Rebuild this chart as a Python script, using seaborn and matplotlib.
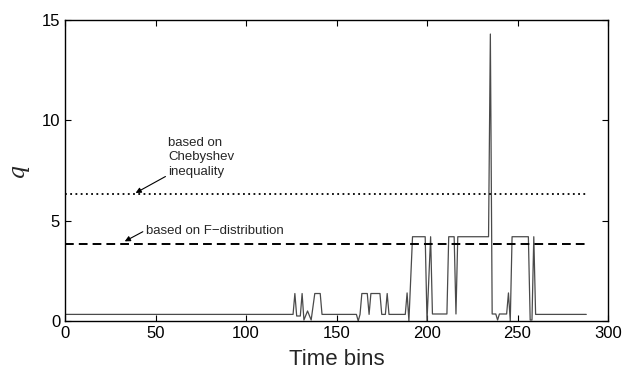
import matplotlib
matplotlib.use("Agg")
import matplotlib.pyplot as plt
import seaborn as sns
import pandas as pd

# Statistic q per time bin (vertices of the trace)
time_bins = [0, 126, 127, 128, 130, 131, 132, 134, 136, 138, 141, 142,
             161, 162, 163, 164, 167, 168, 169, 174, 175, 177, 178, 179,
             188, 189, 190, 192, 199, 200, 202, 203, 211, 212, 215, 216,
             217, 234, 235, 236, 238, 239, 240, 244, 245, 246, 247, 256,
             257, 258, 259, 260, 288]
q_values = [0.33, 0.33, 1.37, 0.25, 0.25, 1.37, 0.05, 0.5, 0.05, 1.37, 1.37, 0.33,
            0.33, 0.0, 0.33, 1.37, 1.37, 0.33, 1.37, 1.37, 0.33, 0.33, 1.37, 0.33,
            0.33, 1.4, 0.0, 4.2, 4.2, 0.0, 4.2, 0.35, 0.35, 4.2, 4.2, 0.35,
            4.2, 4.2, 14.3, 0.35, 0.35, 0.05, 0.35, 0.35, 1.4, 0.0, 4.2, 4.2,
            0.05, 0.05, 4.2, 0.33, 0.33]

# Detection thresholds
threshold_span = [0, 288]
chebyshev_q = 6.35
f_dist_q = 3.85

x_ticks = [0, 50, 100, 150, 200, 250, 300]
y_ticks = [0, 5, 10, 15]

sns.set_style("ticks")
plt.rcParams["font.family"] = ["Liberation Sans", "DejaVu Sans"]

fig = plt.figure(figsize=(6.22, 3.77), dpi=100)
ax = fig.add_axes([0.1045, 0.1485, 0.873, 0.7985])

df = pd.DataFrame({"Time bins": time_bins, "q": q_values})
sns.lineplot(data=df, x="Time bins", y="q", ax=ax, color="#4a4a4a",
             linewidth=0.9, estimator=None, sort=False)

ax.plot(threshold_span, [chebyshev_q, chebyshev_q], color="black",
        linewidth=1.3, linestyle=(0, (1, 1.9)))
ax.plot(threshold_span, [f_dist_q, f_dist_q], color="black",
        linewidth=1.4, linestyle=(0, (4.5, 2.6)))

arrow_style = dict(arrowstyle="-|>", color="black", lw=0.8,
                   mutation_scale=8, shrinkA=0, shrinkB=0)

ax.text(57, 8.15, "based on\nChebyshev\ninequality", fontsize=9.5,
        ha="left", va="center", linespacing=1.3)
ax.annotate("", xy=(39, chebyshev_q + 0.03), xytext=(55.5, 7.2),
            arrowprops=arrow_style)

ax.text(45, 4.47, "based on F\u2212distribution", fontsize=9.5,
        ha="left", va="center")
ax.annotate("", xy=(33, f_dist_q + 0.12), xytext=(43, 4.45),
            arrowprops=arrow_style)

ax.set_xlim(0, 300)
ax.set_ylim(0, 15)
ax.set_xticks(x_ticks)
ax.set_yticks(y_ticks)
ax.tick_params(direction="in", length=4, width=0.8, labelsize=12,
               top=True, right=True, colors="black")
for side in ax.spines.values():
    side.set_visible(True)
    side.set_linewidth(1.0)
    side.set_color("black")

ax.set_xlabel("Time bins", fontsize=16, labelpad=6)
ax.set_ylabel("q", fontsize=16, family="DejaVu Serif", style="italic",
              labelpad=10)

fig.savefig("out.png", dpi=100)
